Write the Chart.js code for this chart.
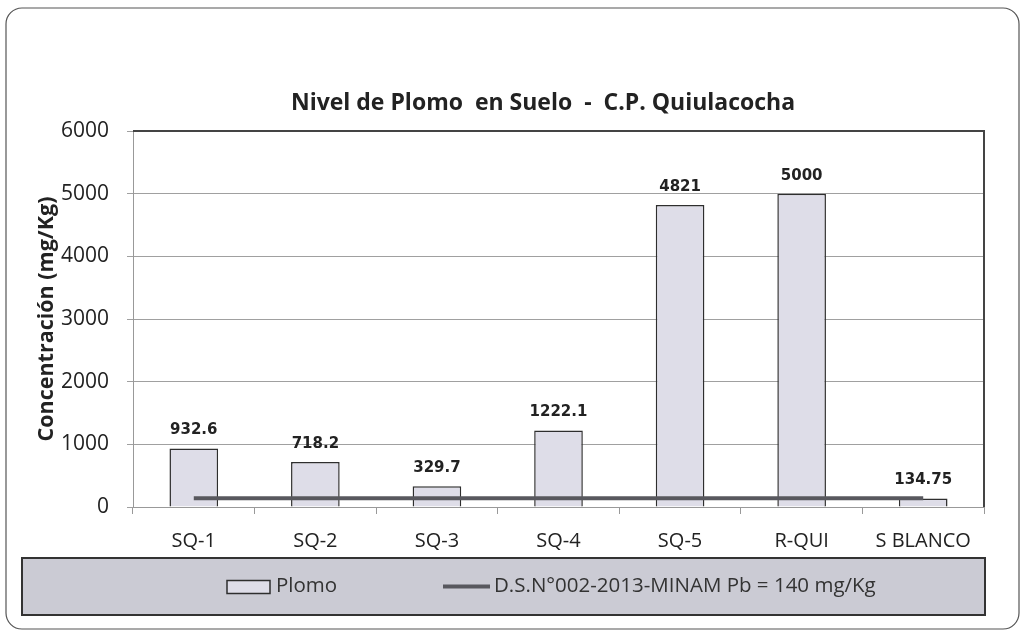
<!DOCTYPE html>
<html>
<head>
<meta charset="utf-8">
<title>Nivel de Plomo en Suelo</title>
<script src="https://cdn.jsdelivr.net/npm/chart.js@4.4.0/dist/chart.umd.min.js"></script>
<style>
  html, body { margin: 0; padding: 0; background: #fff; }
  #wrap { width: 1024px; height: 632px; position: relative; }
</style>
</head>
<body>
<div id="wrap"><canvas id="grafico"></canvas></div>
<script>
// datos
const estaciones = ['SQ-1', 'SQ-2', 'SQ-3', 'SQ-4', 'SQ-5', 'R-QUI', 'S BLANCO'];
const plomo = [932.6, 718.2, 329.7, 1222.1, 4821, 5000, 134.75];
const etiquetas = ['932.6', '718.2', '329.7', '1222.1', '4821', '5000', '134.75'];
const limiteECA = [140, 140, 140, 140, 140, 140, 140];
const ticksY = [0, 1000, 2000, 3000, 4000, 5000, 6000];
const titulo = 'Nivel de Plomo  en Suelo  -  C.P. Quiulacocha';

const fuente = '"Open Sans", Lato, sans-serif';

// marco exterior, titulo, recuadro de la leyenda, etiquetas de datos
const decoracion = {
    id: 'decoracion',
    beforeDraw(chart) {
        const ctx = chart.ctx;
        ctx.save();
        ctx.strokeStyle = '#555';
        ctx.lineWidth = 1.2;
        ctx.beginPath();
        ctx.roundRect(6, 8, 1013, 621, 16);
        ctx.stroke();
        // titulo (en Excel va algo desplazado a la derecha)
        ctx.fillStyle = '#222';
        ctx.font = 'bold 23px ' + fuente;
        ctx.textAlign = 'center';
        ctx.textBaseline = 'middle';
        ctx.fillText(titulo, 543, 103);
        ctx.restore();
    },
    afterDatasetsDraw(chart) {
        const ctx = chart.ctx;
        const a = chart.chartArea;
        ctx.save();
        // borde superior y derecho del area de trazado
        ctx.strokeStyle = '#444';
        ctx.lineWidth = 2;
        ctx.beginPath();
        ctx.moveTo(a.left, a.top);
        ctx.lineTo(a.right, a.top);
        ctx.lineTo(a.right, a.bottom);
        ctx.stroke();

        // etiquetas sobre las barras
        const meta = chart.getDatasetMeta(0);
        ctx.fillStyle = '#222';
        ctx.font = 'bold 15px "DejaVu Sans", sans-serif';
        ctx.textAlign = 'center';
        ctx.textBaseline = 'middle';
        meta.data.forEach((bar, i) => {
            ctx.fillText(etiquetas[i], bar.x, bar.y - 18);
        });

        // leyenda
        const top = a.bottom + 51, h = 57, left = 22, right = 985;
        ctx.fillStyle = '#cbcbd4';
        ctx.fillRect(left, top, right - left, h);
        ctx.strokeStyle = '#333';
        ctx.lineWidth = 2;
        ctx.strokeRect(left, top, right - left, h);
        const cy = top + h / 2;
        const ds = chart.data.datasets;
        ctx.fillStyle = ds[0].backgroundColor;
        ctx.fillRect(227, cy - 6, 43, 13);
        ctx.strokeStyle = ds[0].borderColor;
        ctx.lineWidth = 1.5;
        ctx.strokeRect(227, cy - 6, 43, 13);
        ctx.strokeStyle = ds[1].borderColor;
        ctx.lineWidth = 4;
        ctx.beginPath();
        ctx.moveTo(443, cy);
        ctx.lineTo(490, cy);
        ctx.stroke();
        ctx.fillStyle = '#333';
        ctx.font = '20.5px ' + fuente;
        ctx.textAlign = 'left';
        ctx.fillText(ds[0].label, 276, cy);
        ctx.fillText(ds[1].label, 494, cy);
        ctx.restore();
    }
};

new Chart(document.getElementById('grafico'), {
    data: {
        labels: estaciones,
        datasets: [{
            type: 'bar',
            label: 'Plomo',
            data: plomo,
            backgroundColor: '#dedde8',
            borderColor: '#2e2e2e',
            borderWidth: 1.5,
            borderSkipped: 'bottom',
            categoryPercentage: 1,
            barPercentage: 0.4,
            order: 2
        }, {
            type: 'line',
            label: 'D.S.N°002-2013-MINAM Pb = 140 mg/Kg',
            data: limiteECA,
            borderColor: '#58585e',
            borderWidth: 4,
            pointRadius: 0,
            fill: false,
            order: 1
        }]
    },
    options: {
        responsive: true,
        maintainAspectRatio: false,
        animation: false,
        layout: { padding: { left: 20, right: 40, top: 131, bottom: 64 } },
        plugins: {
            legend: { display: false },
            tooltip: { enabled: false },
            title: { display: false }
        },
        scales: {
            x: {
                offset: true,
                grid: { offset: true, drawOnChartArea: false, drawTicks: true, tickLength: 7, color: '#999' },
                border: { color: '#999', width: 1 },
                ticks: { color: '#222', font: { family: fuente, size: 20 }, padding: 15 }
            },
            y: {
                min: 0,
                max: 6000,
                afterBuildTicks: s => { s.ticks = ticksY.map(v => ({ value: v })); },
                afterFit: s => { s.width = 113; },
                grid: { color: '#a0a0a0', tickLength: 6 },
                border: { color: '#999', width: 1 },
                ticks: {
                    color: '#222',
                    font: { family: fuente, size: 21 },
                    padding: 18,
                    callback: v => String(v)
                },
                title: {
                    display: true,
                    text: 'Concentración (mg/Kg)',
                    color: '#222',
                    font: { family: fuente, size: 21.5, weight: 'bold' },
                    padding: { top: 14, bottom: 0 }
                }
            }
        }
    },
    plugins: [decoracion]
});
</script>
</body>
</html>
